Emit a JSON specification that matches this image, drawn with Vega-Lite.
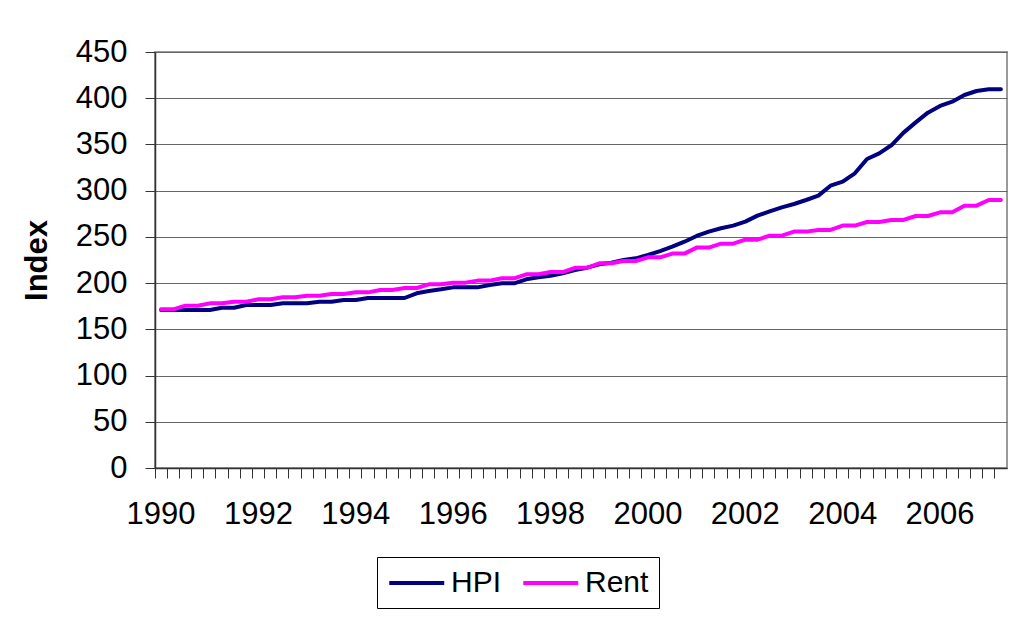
{
  "$schema": "https://vega.github.io/schema/vega-lite/v6.json",
  "width": 852,
  "height": 416,
  "autosize": {"type": "none"},
  "padding": {"left": 155, "top": 52, "right": 28, "bottom": 149},
  "background": "white",
  "config": {
    "view": {"stroke": "#9a9a9a", "strokeWidth": 2},
    "font": "Liberation Sans"
  },
  "datasets": {
    "hpi": [
      {"q":"1990Q1","HPI":171,"Rent":171.6},{"q":"1990Q2","HPI":171,"Rent":171.6},{"q":"1990Q3","HPI":171,"Rent":175.6},{"q":"1990Q4","HPI":171,"Rent":175.6},
      {"q":"1991Q1","HPI":171,"Rent":178.1},{"q":"1991Q2","HPI":173.4,"Rent":178.1},{"q":"1991Q3","HPI":173.4,"Rent":179.9},{"q":"1991Q4","HPI":176.3,"Rent":179.9},
      {"q":"1992Q1","HPI":176.3,"Rent":182.5},{"q":"1992Q2","HPI":176.3,"Rent":182.5},{"q":"1992Q3","HPI":178.1,"Rent":184.6},{"q":"1992Q4","HPI":178.1,"Rent":184.6},
      {"q":"1993Q1","HPI":178.1,"Rent":186.4},{"q":"1993Q2","HPI":179.9,"Rent":186.4},{"q":"1993Q3","HPI":179.9,"Rent":188.2},{"q":"1993Q4","HPI":181.7,"Rent":188.2},
      {"q":"1994Q1","HPI":181.7,"Rent":190},{"q":"1994Q2","HPI":183.9,"Rent":190},{"q":"1994Q3","HPI":183.9,"Rent":192.6},{"q":"1994Q4","HPI":183.9,"Rent":192.6},
      {"q":"1995Q1","HPI":183.9,"Rent":194.7},{"q":"1995Q2","HPI":189,"Rent":194.7},{"q":"1995Q3","HPI":191.5,"Rent":198.7},{"q":"1995Q4","HPI":193.3,"Rent":198.7},
      {"q":"1996Q1","HPI":195.4,"Rent":200.5},{"q":"1996Q2","HPI":195.4,"Rent":200.5},{"q":"1996Q3","HPI":195.4,"Rent":202.7},{"q":"1996Q4","HPI":198,"Rent":202.7},
      {"q":"1997Q1","HPI":199.8,"Rent":205.2},{"q":"1997Q2","HPI":199.8,"Rent":205.2},{"q":"1997Q3","HPI":204.1,"Rent":209.5},{"q":"1997Q4","HPI":206.3,"Rent":209.5},
      {"q":"1998Q1","HPI":208,"Rent":212},{"q":"1998Q2","HPI":210.5,"Rent":212},{"q":"1998Q3","HPI":214.2,"Rent":216.5},{"q":"1998Q4","HPI":216.7,"Rent":216.5},
      {"q":"1999Q1","HPI":220.3,"Rent":221.4},{"q":"1999Q2","HPI":222.1,"Rent":221.4},{"q":"1999Q3","HPI":225,"Rent":223.9},{"q":"1999Q4","HPI":226.8,"Rent":223.9},
      {"q":"2000Q1","HPI":230.4,"Rent":227.9},{"q":"2000Q2","HPI":234.7,"Rent":227.9},{"q":"2000Q3","HPI":239.4,"Rent":231.9},{"q":"2000Q4","HPI":244.8,"Rent":231.9},
      {"q":"2001Q1","HPI":251,"Rent":238.4},{"q":"2001Q2","HPI":255.7,"Rent":238.4},{"q":"2001Q3","HPI":259.3,"Rent":242.7},{"q":"2001Q4","HPI":262.2,"Rent":242.7},
      {"q":"2002Q1","HPI":266.5,"Rent":247},{"q":"2002Q2","HPI":273,"Rent":247},{"q":"2002Q3","HPI":277.7,"Rent":251.3},{"q":"2002Q4","HPI":282,"Rent":251.3},
      {"q":"2003Q1","HPI":285.6,"Rent":255.7},{"q":"2003Q2","HPI":289.9,"Rent":255.7},{"q":"2003Q3","HPI":294.6,"Rent":257.5},{"q":"2003Q4","HPI":305.4,"Rent":257.5},
      {"q":"2004Q1","HPI":309.7,"Rent":262.2},{"q":"2004Q2","HPI":318.8,"Rent":262.2},{"q":"2004Q3","HPI":334.3,"Rent":266.1},{"q":"2004Q4","HPI":340.4,"Rent":266.1},
      {"q":"2005Q1","HPI":349.1,"Rent":268.3},{"q":"2005Q2","HPI":362.8,"Rent":268.3},{"q":"2005Q3","HPI":373.9,"Rent":272.6},{"q":"2005Q4","HPI":384.4,"Rent":272.6},
      {"q":"2006Q1","HPI":391.6,"Rent":276.6},{"q":"2006Q2","HPI":396.3,"Rent":276.6},{"q":"2006Q3","HPI":403.5,"Rent":283.8},{"q":"2006Q4","HPI":407.8,"Rent":283.8},
      {"q":"2007Q1","HPI":409.6,"Rent":289.9},{"q":"2007Q2","HPI":409.6,"Rent":289.9}
    ]
  },
  "data": {"name": "hpi"},
  "transform": [{"fold": ["HPI", "Rent"], "as": ["series", "value"]}],
  "mark": {"type": "line", "strokeWidth": 4, "strokeCap": "round", "strokeJoin": "round"},
  "encoding": {
    "x": {
      "field": "q",
      "type": "ordinal",
      "sort": null,
      "scale": {"type": "band", "paddingInner": 0, "paddingOuter": 0},
      "axis": {
        "title": null,
        "bandPosition": 0,
        "labelExpr": "slice(datum.value,4)=='Q1' && toNumber(slice(datum.value,0,4))%2==0 ? slice(datum.value,0,4) : ''",
        "labelAngle": 0,
        "labelOverlap": false,
        "labelBound": false,
        "labelFlush": false,
        "labelDx": 6,
        "labelFontSize": 31,
        "labelColor": "black",
        "labelPadding": 21,
        "tickSize": 10,
        "tickColor": "#333333",
        "domainColor": "#333333",
        "domainWidth": 1.5,
        "grid": false
      }
    },
    "y": {
      "field": "value",
      "type": "quantitative",
      "scale": {"domain": [0, 450], "nice": false},
      "axis": {
        "title": "Index",
        "values": [0, 50, 100, 150, 200, 250, 300, 350, 400, 450],
        "grid": true,
        "gridColor": "#666666",
        "gridWidth": 1,
        "tickSize": 10,
        "tickColor": "#333333",
        "domainColor": "#333333",
        "domainWidth": 1.5,
        "labelFontSize": 31,
        "labelColor": "black",
        "labelPadding": 18,
        "titleFontSize": 31,
        "titleFontWeight": "bold",
        "titleColor": "black",
        "titlePadding": 22
      }
    },
    "color": {
      "field": "series",
      "type": "nominal",
      "scale": {"domain": ["HPI", "Rent"], "range": ["#000080", "#FF00FF"]},
      "legend": {
        "title": null,
        "orient": "none",
        "legendX": 222,
        "legendY": 505,
        "direction": "horizontal",
        "symbolType": "M-1,0L3,0",
        "symbolSize": 756,
        "symbolStrokeWidth": 4,
        "labelFontSize": 30,
        "labelColor": "black",
        "labelOffset": 32,
        "columnPadding": 13,
        "padding": 10,
        "strokeColor": "black",
        "fillColor": "white"
      }
    }
  }
}
